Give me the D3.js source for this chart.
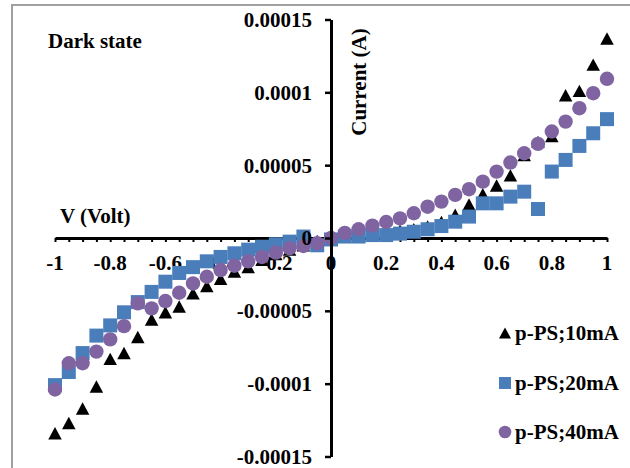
<!DOCTYPE html>
<html>
<head>
<meta charset="utf-8">
<script src="https://cdn.jsdelivr.net/npm/d3@7"></script>
<style>
  body { margin: 0; background: #fff; }
  svg text { font-family: "Liberation Serif", "Times New Roman", serif; font-weight: bold; fill: #000; }
</style>
</head>
<body>
<div class="chart"></div>
<script>
    // bias voltage (V)
    var volts = [-1, -0.95, -0.9, -0.85, -0.8, -0.75, -0.7, -0.65, -0.6, -0.55,
                 -0.5, -0.45, -0.4, -0.35, -0.3, -0.25, -0.2, -0.15, -0.1, -0.05,
                 0, 0.05, 0.1, 0.15, 0.2, 0.25, 0.3, 0.35, 0.4, 0.45,
                 0.5, 0.55, 0.6, 0.65, 0.7, 0.75, 0.8, 0.85, 0.9, 0.95, 1];

    // current, in units of 1e-5 A
    var current10 = [-13.4, -12.7, -11.7, -10.2, -8.3, -7.9, -6.8, -5.6, -5.1, -4.7,
                     -3.8, -3.3, -2.8, -2.3, -2.0, -1.5, -1.1, -0.8, -0.5, -0.2,
                     0, 0.1, 0.2, 0.3, 0.4, 0.5, 0.6, 0.8, 1.1, 1.6,
                     2.3, 3.0, 3.6, 4.3, 5.7, 6.6, 7.0, 9.8, 10.1, 11.9, 13.7];
    var current20 = [-10.1, -9.2, -7.9, -6.7, -6.0, -5.1, -4.4, -3.7, -3.0, -2.4,
                     -2.0, -1.6, -1.3, -1.05, -0.8, -0.6, -0.43, -0.25, 0.1, -0.5,
                     -0.1, 0.1, 0.1, 0.2, 0.2, 0.3, 0.43, 0.6, 0.82, 1.12,
                     1.47, 2.38, 2.38, 2.84, 3.18, 1.99, 4.56, 5.36, 6.32, 7.19, 8.16];
    var current40 = [-10.4, -8.6, -8.6, -7.8, -6.96, -6.05, -4.49, -4.83, -4.33, -3.76,
                     -3.12, -2.66, -2.2, -1.9, -1.6, -1.3, -1.0, -0.7, -0.55, -0.36,
                     0, 0.35, 0.6, 0.85, 1.1, 1.35, 1.7, 2.15, 2.5, 2.96,
                     3.35, 3.87, 4.56, 5.18, 5.82, 6.46, 7.31, 7.99, 8.91, 9.94, 10.93];

    var seriesNames = ["p-PS;10mA", "p-PS;20mA", "p-PS;40mA"];
    var xTicks = [-1, -0.8, -0.6, -0.4, -0.2, 0, 0.2, 0.4, 0.6, 0.8, 1];
    var xTickLabels = ["-1", "-0.8", "-0.6", "-0.4", "-0.2", "0", "0.2", "0.4", "0.6", "0.8", "1"];
    var yTicks = [-0.00015, -0.0001, -0.00005, 0, 0.00005, 0.0001, 0.00015];
    var yTickLabels = ["-0.00015", "-0.0001", "-0.00005", "0", "0.00005", "0.0001", "0.00015"];

    var width = 630, height = 468;
    var unit = 1e-5;

    var svg = d3.select(".chart")
            .append("svg")
            .attr("width", width)
            .attr("height", height);

    // outer chart border (runs off the right and bottom of the picture)
    svg.append("rect")
            .attr("x", 12).attr("y", 5)
            .attr("width", 700).attr("height", 500)
            .style("fill", "none")
            .style("stroke", "#a0a0a0")
            .style("stroke-width", 2);

    var x = d3.scaleLinear().domain([-1, 1]).range([55, 607]);
    var y = d3.scaleLinear().domain([-0.00015, 0.00015]).range([456.5, 19.5]);

    //minor ticks every 0.05 on the x axis
    var minor = volts;

    var xAxis = svg.append("g")
            .attr("transform", "translate(0," + y(0) + ")")
            .call(d3.axisBottom(x).tickValues(minor).tickSize(4).tickSizeOuter(0).tickFormat(""));
    xAxis.select(".domain").attr("stroke", "#000").attr("stroke-width", 3);
    xAxis.selectAll(".tick line").attr("stroke", "#000").attr("stroke-width", 2);

    // x tick labels sit just under the zero line
    svg.append("g").selectAll("text")
            .data(xTicks)
            .enter()
            .append("text")
            .attr("x", function(d) { return x(d); })
            .attr("y", y(0) + 25)
            .attr("dy", "0.33em")
            .style("text-anchor", "middle")
            .style("font-size", "21px")
            .text(function(d, i) { return xTickLabels[i]; });

    var triangle = function(s) {
        return "M0," + (-s * 0.46) + "L" + (s / 2) + "," + (s * 0.46) + "L" + (-s / 2) + "," + (s * 0.46) + "Z";
    };

    var plot = svg.append("g");

    plot.selectAll(".tri")
            .data(volts)
            .enter()
            .append("path")
            .attr("class", "tri")
            .attr("transform", function(d, i) {
                return "translate(" + x(d) + "," + y(current10[i] * unit) + ")";
            })
            .attr("d", triangle(13.5))
            .style("fill", "#000");

    plot.selectAll(".sq")
            .data(volts)
            .enter()
            .append("rect")
            .attr("class", "sq")
            .attr("x", function(d) { return x(d) - 7; })
            .attr("y", function(d, i) { return y(current20[i] * unit) - 7; })
            .attr("width", 14)
            .attr("height", 14)
            .style("fill", "#4a7ebb");

    plot.selectAll(".dot")
            .data(volts)
            .enter()
            .append("circle")
            .attr("class", "dot")
            .attr("cx", function(d) { return x(d); })
            .attr("cy", function(d, i) { return y(current40[i] * unit); })
            .attr("r", 7.2)
            .style("fill", "#8064a2");

    // y axis after the markers so its "0" label stays on top
    var yAxis = svg.append("g")
            .attr("transform", "translate(" + x(0) + ",0)")
            .call(d3.axisLeft(y).tickValues(yTicks).tickSize(6).tickSizeOuter(0).tickPadding(13)
                .tickFormat(function(d, i) { return yTickLabels[i]; }));
    yAxis.select(".domain").attr("stroke", "#000").attr("stroke-width", 3);
    yAxis.selectAll(".tick line").attr("stroke", "#000").attr("stroke-width", 2.5);
    yAxis.selectAll(".tick text")
            .style("font-size", "21px")
            .attr("dy", "0.33em");

    // axis titles and note
    svg.append("text")
            .attr("x", 48).attr("y", 48)
            .style("font-size", "21px")
            .text("Dark state");

    svg.append("text")
            .attr("x", 60).attr("y", 223)
            .style("font-size", "21px")
            .text("V (Volt)");

    svg.append("text")
            .attr("transform", "translate(366,82) rotate(-90)")
            .style("text-anchor", "middle")
            .style("font-size", "21px")
            .text("Current (A)");

    // legend
    var legendY = [333, 383, 432];
    var legend = svg.append("g");

    legend.append("path")
            .attr("transform", "translate(505," + legendY[0] + ")")
            .attr("d", triangle(12))
            .style("fill", "#000");
    legend.append("rect")
            .attr("x", 499).attr("y", legendY[1] - 6)
            .attr("width", 12).attr("height", 12)
            .style("fill", "#4a7ebb");
    legend.append("circle")
            .attr("cx", 505).attr("cy", legendY[2])
            .attr("r", 6.3)
            .style("fill", "#8064a2");

    legend.selectAll("text")
            .data(seriesNames)
            .enter()
            .append("text")
            .attr("x", 515)
            .attr("y", function(d, i) { return legendY[i]; })
            .attr("dy", "0.33em")
            .style("font-size", "21px")
            .text(function(d) { return d; });
</script>
</body>
</html>
